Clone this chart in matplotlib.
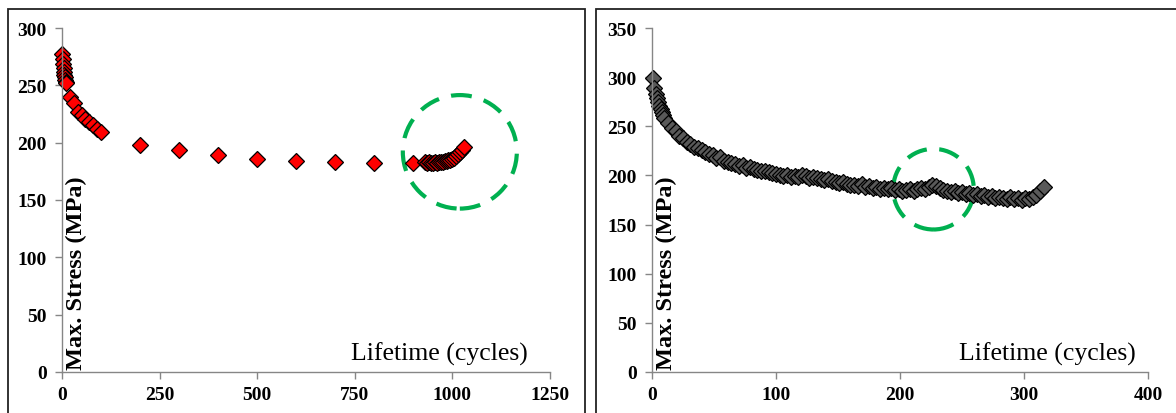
import matplotlib.pyplot as plt
from matplotlib.patches import Ellipse, Rectangle

# specimen A (left): cycles and max stress
cyc_a = [1, 2, 3, 4, 5, 6, 7, 8, 9, 10,
         20, 30, 40, 50, 60, 70, 80, 90, 100,
         200, 300, 400, 500, 600, 700, 800, 900] + list(range(930, 1031, 5))
stress_a = [277, 273, 269, 265, 262, 259, 257, 255, 253, 252,
            240, 235, 227, 224, 221, 218, 215, 212, 209,
            198, 194, 189, 186, 184, 183, 182, 182,
            183, 182, 183, 182, 182, 183, 182, 183, 183, 183,
            184, 184, 185, 185, 186, 187, 188, 190, 192, 194, 196]

# specimen B (right)
cyc_b = list(range(1, 11)) + list(range(13, 317, 3))
stress_b = [299, 289, 283, 279, 275, 271, 268, 265, 261, 258,
            253, 248, 245, 240, 238, 234, 232, 229, 228, 226,
            224, 222, 221, 218, 219, 215, 214, 213, 212, 210,
            211, 208, 209, 207, 206, 205, 204, 203, 202, 201,
            200, 199, 200, 198, 199, 198, 200, 199, 197, 198,
            197, 196, 195, 196, 194, 193, 192, 193, 191, 190,
            190, 189, 191, 188, 189, 187, 188, 186, 187, 186,
            187, 185, 186, 184, 185, 186, 184, 186, 187, 186,
            188, 190, 189, 187, 185, 184, 183, 184, 182, 183,
            181, 182, 180, 181, 179, 180, 178, 179, 177, 178,
            177, 176, 178, 176, 177, 175, 177, 176, 178, 180,
            184, 188]

serif = ['Liberation Serif', 'DejaVu Serif']
gray = '#868686'
green = '#00B050'

fig = plt.figure(figsize=(11.76, 4.14), dpi=100)

# panel frames
for x0, x1 in [(8, 585), (596, 1190)]:
    fig.patches.append(Rectangle((x0 / 1176, -0.1), (x1 - x0) / 1176, 1.1 - 10 / 414,
                                 transform=fig.transFigure, fill=False,
                                 edgecolor='#222222', linewidth=1.3))

ax1 = fig.add_axes([62 / 1176, 1 - 373 / 414, 488 / 1176, 344 / 414])
ax2 = fig.add_axes([652 / 1176, 1 - 373 / 414, 496 / 1176, 344 / 414])


def style(ax, xmax, xstep, ymax, xlab_pos):
    ax.set_xlim(0, xmax)
    ax.set_ylim(0, ymax)
    ax.set_xticks(range(0, xmax + 1, xstep))
    ax.set_yticks(range(0, ymax + 1, 50))
    for s in ['top', 'right']:
        ax.spines[s].set_visible(False)
    for s in ['left', 'bottom']:
        ax.spines[s].set_color(gray)
        ax.spines[s].set_linewidth(1.0)
    ax.tick_params(colors=gray, length=5, width=1.0, direction='out')
    for lab in ax.get_xticklabels() + ax.get_yticklabels():
        lab.set_family(serif)
        lab.set_fontweight('bold')
        lab.set_fontsize(14)
        lab.set_color('black')
    ax.tick_params(axis='x', pad=5)
    ax.tick_params(axis='y', pad=6)
    ax.text(0.008, 0.01, 'Max. Stress (MPa)', transform=ax.transAxes, rotation=90,
            ha='left', va='bottom', family=serif, fontweight='bold', fontsize=17.5)
    ax.text(xlab_pos, 0.02, 'Lifetime (cycles)', transform=ax.transAxes,
            ha='right', va='bottom', family=serif, fontsize=18.5)


style(ax1, 1250, 250, 300, 0.955)
style(ax2, 400, 100, 350, 0.975)

ax1.plot(cyc_a, stress_a, linestyle='none', marker='D', markersize=8.5,
         markerfacecolor='#FF0000', markeredgecolor='black', markeredgewidth=0.9,
         clip_on=False)
ax2.plot(cyc_b, stress_b, linestyle='none', marker='D', markersize=8,
         markerfacecolor='#595959', markeredgecolor='black', markeredgewidth=0.9,
         clip_on=False)

ax1.add_patch(Ellipse((1019, 192), 292, 99, fill=False, edgecolor=green,
                      linewidth=3, linestyle=(0, (5, 3))))
ax2.add_patch(Ellipse((227, 186), 65, 82, fill=False, edgecolor=green,
                      linewidth=3, linestyle=(0, (5, 3))))

fig.savefig('out.png', dpi=100)
